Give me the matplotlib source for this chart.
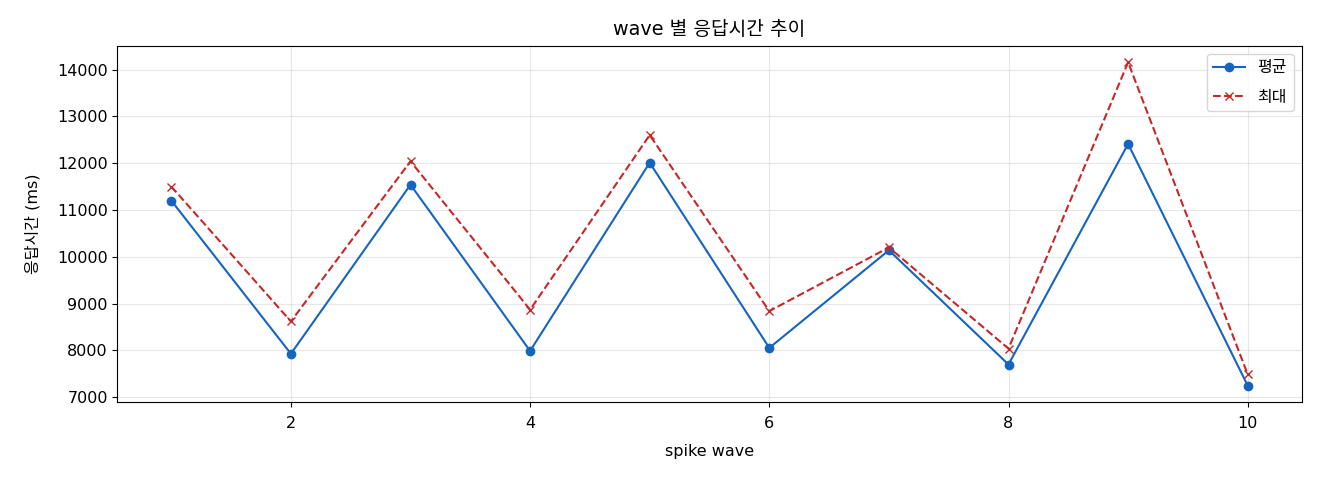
import numpy as np
import matplotlib as mpl
import matplotlib.pyplot as plt

mpl.rc('font', family=['DejaVu Sans', 'Noto Sans CJK KR'], size=11.5)
mpl.rc('axes', unicode_minus=False, titlesize='large')

waves = [1, 2, 3, 4, 5, 6, 7, 8, 9, 10]
meanMs = [11200, 7930, 11540, 7990, 12010, 8055, 10140, 7700, 12410, 7250]
maxMs = [11500, 8620, 12040, 8870, 12600, 8840, 10200, 8040, 14155, 7490]

fig, ax = plt.subplots(figsize=(13.2, 4.8), dpi=100)

ax.plot(waves, meanMs, color='#1565C0', marker='o', linestyle='-', label='평균')
ax.plot(waves, maxMs, color='#C62828', marker='x', linestyle='--', label='최대')

ax.set_title('wave 별 응답시간 추이', pad=8)
ax.set_xlabel('spike wave', labelpad=9)
ax.set_ylabel('응답시간 (ms)', labelpad=12)
ax.tick_params(axis='x', pad=7)
ax.grid(True, alpha=0.3)
ax.legend(loc='upper right', labelspacing=0.9)

fig.subplots_adjust(left=0.089, right=0.986, top=0.904, bottom=0.163)
plt.savefig('out.png')
